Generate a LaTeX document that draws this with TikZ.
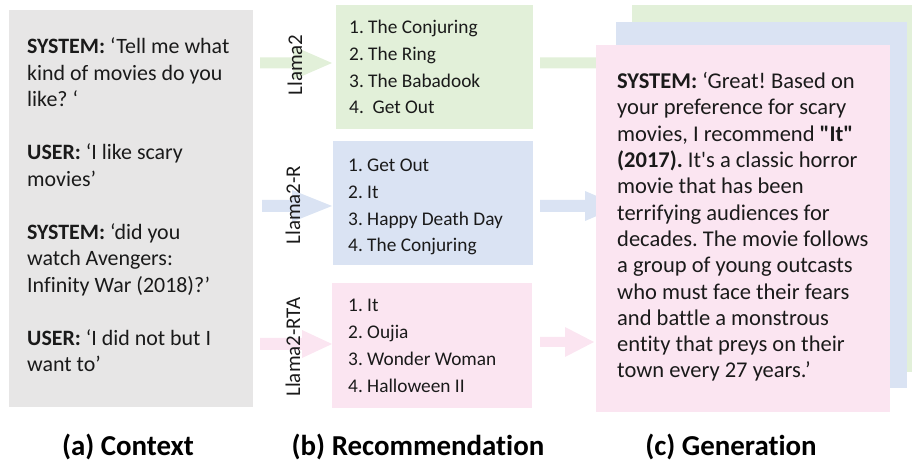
\documentclass[tikz,border=0pt]{standalone}
\usepackage{fontspec}
\newfontfamily\carl{Carlito}[Ligatures={NoCommon}]
\definecolor{ctxgray}{HTML}{E7E6E6}
\definecolor{lgreen}{HTML}{E2F0D9}
\definecolor{lblue}{HTML}{DAE3F3}
\definecolor{lpink}{HTML}{FBE5F1}
\definecolor{ink}{HTML}{1A1A1A}
\newcommand\blockarrow[7]{%
  \fill[#1] (#2,{#5-#6}) -- (#3,{#5-#6}) -- (#3,{#5-#7}) -- (#4,#5) -- (#3,{#5+#7}) -- (#3,{#5+#6}) -- (#2,{#5+#6}) -- cycle;}
\begin{document}
\frenchspacing
\begin{tikzpicture}[x=1bp,y=-1bp,
  bodytext/.style={inner sep=0,anchor=base west,align=left,text=ink,font=\carl\fontsize{22}{26.6}\selectfont},
  listtext/.style={inner sep=0,anchor=base west,align=left,text=ink,font=\carl\fontsize{19.4}{27}\selectfont},
  gentext/.style={inner sep=0,anchor=base west,align=left,text=ink,font=\carl\fontsize{22.6}{26.4}\selectfont},
  modellabel/.style={inner sep=0,rotate=90,text=ink,font=\carl\fontsize{21}{24}\selectfont},
  captext/.style={inner sep=0,anchor=base,text=black,font=\carl\bfseries\fontsize{29}{32}\selectfont}]
\useasboundingbox (0,0) rectangle (912,462);
% arrows (behind everything)
\blockarrow{lgreen}{260}{293}{332}{63}{5.5}{17}
\blockarrow{lblue}{262}{292}{332}{206}{6}{16}
\blockarrow{lpink}{260}{302}{332}{344}{6}{14}
\blockarrow{lgreen}{540}{605}{640}{63}{5.5}{17}
\blockarrow{lblue}{540}{585}{620}{206}{6}{15}
\blockarrow{lpink}{540}{565}{594}{342}{5}{15}
% context panel
\fill[ctxgray] (9,10) rectangle (253,407);
% recommendation panels
\fill[lgreen] (336,5) rectangle (533,129);
\fill[lblue] (333,141) rectangle (533,265);
\fill[lpink] (332,283) rectangle (532,408);
% generation panels (stacked)
\fill[lgreen] (632,5) rectangle (912,372);
\fill[lblue] (616,22) rectangle (907,388);
\fill[lpink] (596,45) rectangle (890,412);
% context text (anchored at the baseline of its last line)
\node[bodytext] (ctxtext) at (27,372) {\textbf{SYSTEM:} ‘Tell me what\\kind of movies do you\\like? ‘\\[26.6bp]\textbf{USER:} ‘I like scary\\movies’\\[26.6bp]\textbf{SYSTEM:} ‘did you\\watch Avengers:\\Infinity War (2018)?’\\[26.6bp]\textbf{USER:} ‘I did not but I\\want to’};
% model labels
\node[modellabel] (l1) at (295,65) {Llama2};
\node[modellabel] (l2) at (293,205) {Llama2-R};
\node[modellabel] (l3) at (293,347) {Llama2-RTA};
% lists
\node[listtext] (list1) at (349,114) {1. The Conjuring\\2. The Ring\\3. The Babadook\\4.\ \ Get Out};
\node[listtext] (list2) at (348,252) {1. Get Out\\2. It\\3. Happy Death Day\\4. The Conjuring};
\node[listtext] (list3) at (348,392) {1. It\\2. Oujia\\3. Wonder Woman\\4. Halloween II};
% generation text
\node[gentext] (gen) at (617,378) {\textbf{SYSTEM:} ‘Great! Based on\\your preference for scary\\movies, I recommend \textbf{"It"}\\\textbf{(2017).} It's a classic horror\\movie that has been\\terrifying audiences for\\decades. The movie follows\\a group of young outcasts\\who must face their fears\\and battle a monstrous\\entity that preys on their\\town every 27 years.’};
% captions
\node[captext] (capa) at (128,455) {(a) Context};
\node[captext] (capb) at (418,455) {(b) Recommendation};
\node[captext] (capc) at (731,455) {(c) Generation};
\end{tikzpicture}
\end{document}
